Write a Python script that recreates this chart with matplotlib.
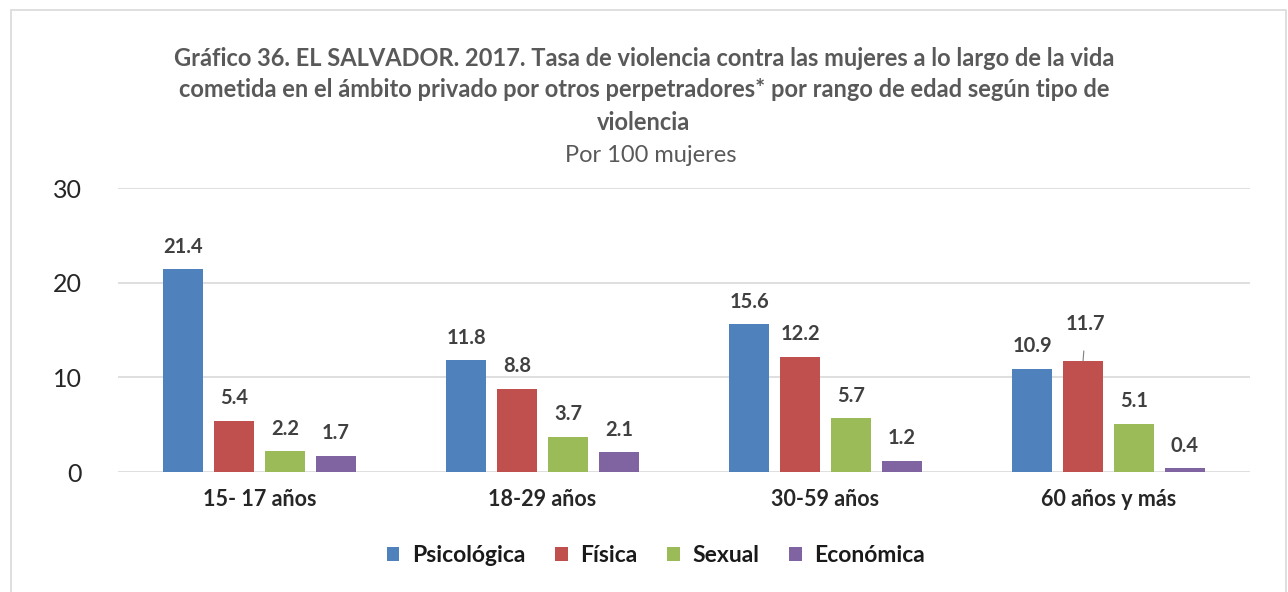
import matplotlib
matplotlib.use("Agg")
import matplotlib.pyplot as plt
from matplotlib.patches import Rectangle
import numpy as np

# --- Data ---
categories = ['15- 17 años', '18-29 años', '30-59 años', '60 años y más']
series_names = ['Psicológica', 'Física', 'Sexual', 'Económica']
psicologica = [21.4, 11.8, 15.6, 10.9]
fisica = [5.4, 8.8, 12.2, 11.7]
sexual = [2.2, 3.7, 5.7, 5.1]
economica = [1.7, 2.1, 1.2, 0.4]

COLORS = ['#4F81BD', '#C0504D', '#9BBB59', '#8064A2']

plt.rcParams['font.family'] = ['Lato', 'DejaVu Sans']

fig = plt.figure(figsize=(12.88, 5.92), dpi=100)
fig.patches.append(Rectangle((11 / 1288, -0.01), 1275 / 1288, 0.993,
                             transform=fig.transFigure, fill=False,
                             edgecolor='#d9d9d9', linewidth=1.2))

ax = fig.add_axes([118 / 1288, 1 - 472 / 592, 1132 / 1288, 284 / 592])

values = [psicologica, fisica, sexual, economica]
x = np.arange(len(categories))
slot = 0.18
width = 0.142
for i, (vals, color, name) in enumerate(zip(values, COLORS, series_names)):
    pos = x + (i - 1.5) * slot
    ax.bar(pos, vals, width, color=color, label=name, zorder=3)
    for j, (p, v) in enumerate(zip(pos, vals)):
        if name == 'Física' and j == 3:
            # label pushed up with leader line
            ax.annotate(f'{v:.1f}', xy=(p, v), xytext=(p + 0.01, v + 3.9),
                        ha='center', va='center', fontsize=14.5, fontweight='bold',
                        color='#404040',
                        arrowprops=dict(arrowstyle='-', color='#808080', lw=0.8,
                                        shrinkA=10, shrinkB=0))
        else:
            ax.annotate(f'{v:.1f}', xy=(p, v), xytext=(0, 9),
                        textcoords='offset points', ha='center', va='bottom',
                        fontsize=14.5, fontweight='bold', color='#404040')

ax.set_xlim(-0.5, 3.5)
ax.set_ylim(0, 30)
ax.set_yticks([0, 10, 20, 30])
ax.tick_params(axis='y', length=0, labelsize=18, colors='#262626', pad=26)
ax.tick_params(axis='x', length=0, pad=12)
ax.set_xticks(x)
ax.set_xticklabels(categories, fontsize=15.5, fontweight='bold', color='#262626')
ax.grid(axis='y', color='#d9d9d9', linewidth=1.2, zorder=0)
for s in ax.spines.values():
    s.set_visible(False)

title_color = '#595959'
fig.text(0.5, 1 - 58 / 592,
         'Gráfico 36. EL SALVADOR. 2017. Tasa de violencia contra las mujeres a lo largo de la vida',
         ha='center', va='center', fontsize=17, fontweight='bold', color=title_color)
fig.text(0.5, 1 - 90 / 592,
         'cometida en el ámbito privado por otros perpetradores* por rango de edad según tipo de',
         ha='center', va='center', fontsize=17, fontweight='bold', color=title_color)
fig.text(0.5, 1 - 122 / 592, 'violencia',
         ha='center', va='center', fontsize=17, fontweight='bold', color=title_color)
fig.text(0.505, 1 - 155 / 592, 'Por 100 mujeres',
         ha='center', va='center', fontsize=17, color=title_color)

leg = fig.legend(loc='center', bbox_to_anchor=(656 / 1288, 1 - 556 / 592), ncol=4,
                 frameon=False, fontsize=16.5, handlelength=0.55, handleheight=0.55,
                 handletextpad=0.55, columnspacing=1.3)
for t in leg.get_texts():
    t.set_fontweight('bold')
    t.set_color('#1a1a1a')

fig.savefig('out.png', dpi=100)
